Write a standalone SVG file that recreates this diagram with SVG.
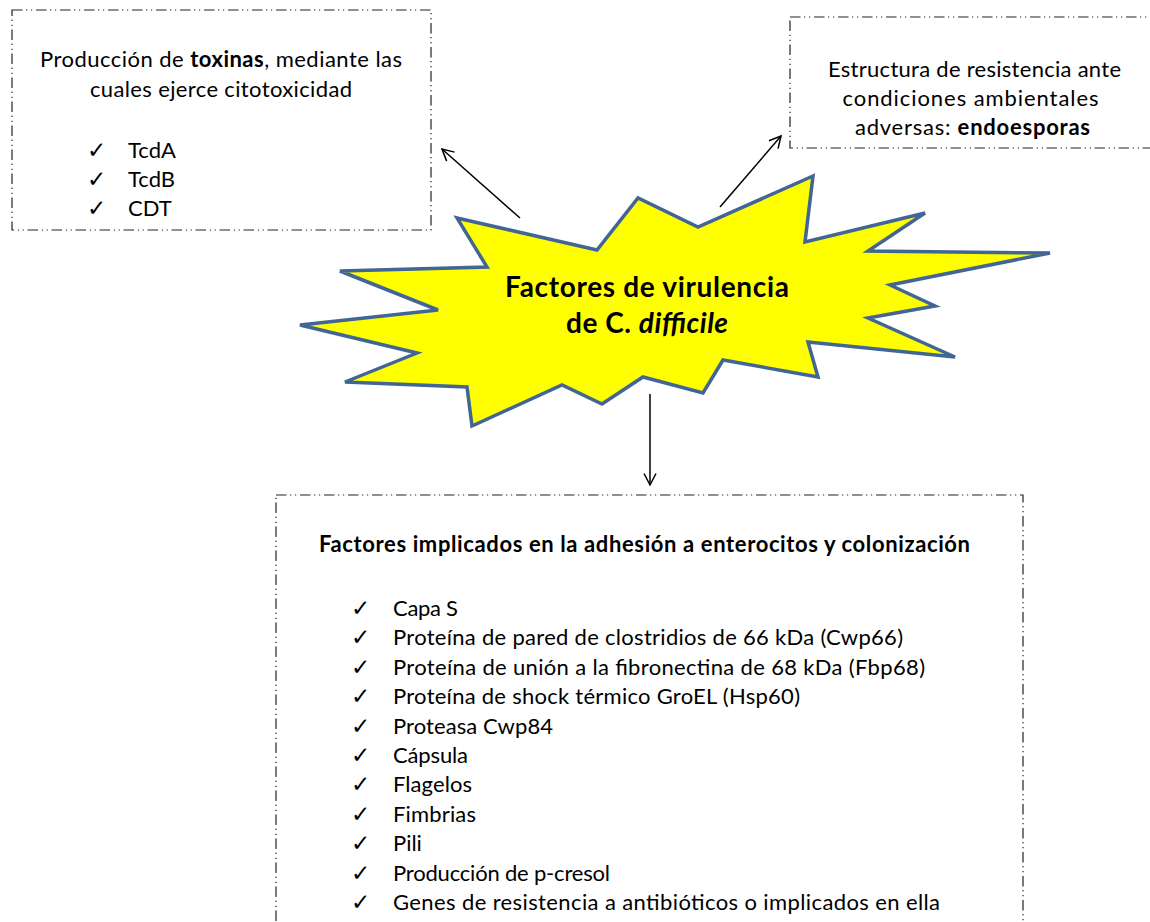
<svg xmlns="http://www.w3.org/2000/svg" width="1150" height="922" viewBox="0 0 1150 922">
<style>
.box{fill:none;stroke:#222;stroke-width:1.2;stroke-dasharray:10.5 3.5 1.2 3.8 1.2 3.8}
.t{font-family:Lato,"Liberation Sans",sans-serif;font-size:22px;fill:#000}
.c{text-anchor:middle}
.b{font-weight:bold}
.ck{font-family:"DejaVu Sans",sans-serif;font-size:23px;fill:#000}
.star{fill:#FFFF00;stroke:#416594;stroke-width:3.5;stroke-linejoin:miter}
.st{font-family:Lato,"Liberation Sans",sans-serif;font-size:28px;font-weight:bold;fill:#000;text-anchor:middle}
.conn line{stroke:#000;stroke-width:1.5}
</style>
<defs>
<marker id="ah" viewBox="0 0 14 14" refX="12.5" refY="7" markerWidth="14" markerHeight="14" markerUnits="userSpaceOnUse" orient="auto">
<path d="M1,1 L12.5,7 L1,13" fill="none" stroke="#000" stroke-width="1.5"/>
</marker>
</defs>
<g id="toxinas">
<rect class="box" x="12" y="10" width="419" height="220"/>
<text class="t c" x="221" y="67" textLength="362">Producción de <tspan class="b">toxinas</tspan>, mediante las</text>
<text class="t c" x="221" y="97" textLength="262">cuales ejerce citotoxicidad</text>
<text class="ck" x="87" y="158">✓</text><text class="t" x="128" y="158">TcdA</text>
<text class="ck" x="87" y="187">✓</text><text class="t" x="128" y="187">TcdB</text>
<text class="ck" x="87" y="216">✓</text><text class="t" x="128" y="216">CDT</text>
</g>
<g id="endoesporas">
<rect class="box" x="790" y="17" width="380" height="131"/>
<text class="t c" x="974.5" y="77" textLength="293">Estructura de resistencia ante</text>
<text class="t c" x="970.5" y="106" textLength="256">condiciones ambientales</text>
<text class="t c" x="972.5" y="135" textLength="235">adversas: <tspan class="b">endoesporas</tspan></text>
</g>
<g id="factores">
<polygon class="star" points="457,218 597,250 638,198 698,227 813,176 805,242 925,213 868,251 1050,253 890,285 935,306 868,318 955,357 808,342 818,377 723,360 703,393 643,377 602,404 562,385 472,426 467,387 345,382 417,353 300,325 438,310 340,271 487,267"/>
<text class="st" x="647" y="297" textLength="284">Factores de virulencia</text>
<text class="st" x="647" y="333" textLength="162">de C. <tspan font-style="italic">difficile</tspan></text>
</g>
<g id="adhesion">
<rect class="box" x="276" y="495" width="747" height="450"/>
<text class="t b c" x="644.5" y="552" textLength="651">Factores implicados en la adhesión a enterocitos y colonización</text>
<g>
<text class="ck" x="351" y="616">✓</text><text class="t" x="393" y="616" textLength="65">Capa S</text>
<text class="ck" x="351" y="645.4">✓</text><text class="t" x="393" y="645.4" textLength="510">Proteína de pared de clostridios de 66 kDa (Cwp66)</text>
<text class="ck" x="351" y="674.8">✓</text><text class="t" x="393" y="674.8" textLength="532">Proteína de unión a la fibronectina de 68 kDa (Fbp68)</text>
<text class="ck" x="351" y="704.2">✓</text><text class="t" x="393" y="704.2" textLength="407">Proteína de shock térmico GroEL (Hsp60)</text>
<text class="ck" x="351" y="733.6">✓</text><text class="t" x="393" y="733.6" textLength="160">Proteasa Cwp84</text>
<text class="ck" x="351" y="763">✓</text><text class="t" x="393" y="763" textLength="75">Cápsula</text>
<text class="ck" x="351" y="792.4">✓</text><text class="t" x="393" y="792.4" textLength="79">Flagelos</text>
<text class="ck" x="351" y="821.8">✓</text><text class="t" x="393" y="821.8" textLength="83">Fimbrias</text>
<text class="ck" x="351" y="851.2">✓</text><text class="t" x="393" y="851.2">Pili</text>
<text class="ck" x="351" y="880.6">✓</text><text class="t" x="393" y="880.6" textLength="217">Producción de p-cresol</text>
<text class="ck" x="351" y="910">✓</text><text class="t" x="393" y="910" textLength="547">Genes de resistencia a antibióticos o implicados en ella</text>
</g>
</g>
<g id="connectors" class="conn">
<line x1="520" y1="218" x2="442" y2="149" marker-end="url(#ah)"/>
<line x1="720" y1="207" x2="781" y2="136" marker-end="url(#ah)"/>
<line x1="650" y1="394" x2="650" y2="485" marker-end="url(#ah)"/>
</g>
</svg>
